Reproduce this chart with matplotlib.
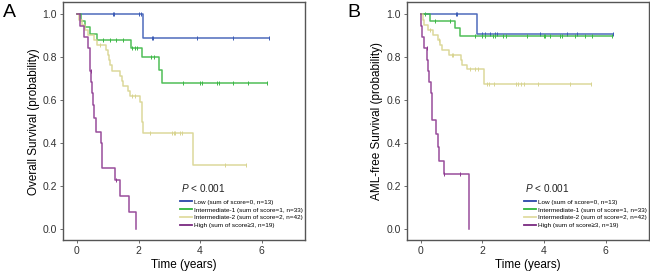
import numpy as np
import matplotlib
matplotlib.use('Agg')
import matplotlib.pyplot as plt

plt.rcParams['font.family'] = ['Liberation Sans', 'DejaVu Sans']
plt.rcParams['mathtext.fontset'] = 'custom'
plt.rcParams['mathtext.it'] = 'Liberation Sans:italic'
plt.rcParams['mathtext.rm'] = 'Liberation Sans'

groups = ['Low (sum of score=0, n=13)', 'Intermediate-1 (sum of score=1, n=33)',
          'Intermediate-2 (sum of score=2, n=42)', 'High (sum of score\u22653, n=19)']
colors = ['#3b5bb5', '#3cb846', '#d8d490', '#8e3a91']
legend_colors = ['#2a44a8', '#2fb83a', '#e0dca0', '#7a2a80']

# panel A: overall survival (step times, survival after step, censor times)
os_low_t = [0, 2.16]
os_low_s = [1.0, 0.889]
os_low_c = [1.17, 1.21, 2.02, 2.08, 2.43, 2.46, 3.9, 5.08, 6.22]

os_int1_t = [0, 0.12, 0.27, 0.43, 0.65, 1.75, 2.11, 2.65, 2.76]
os_int1_s = [1.0, 0.970, 0.939, 0.909, 0.879, 0.845, 0.800, 0.741, 0.678]
os_int1_c = [0.86, 1.06, 1.26, 1.51, 1.80, 1.88, 1.95, 2.40, 2.50, 3.44, 4.0, 4.05,
             4.54, 4.6, 5.08, 5.54, 6.16]

os_int2_t = [0, 0.08, 0.15, 0.25, 0.35, 0.55, 0.65, 0.95, 1.0, 1.03, 1.08, 1.13, 1.40,
             1.46, 1.51, 1.67, 1.73, 2.05, 2.11, 2.12, 2.14, 3.78]
os_int2_s = [1.0, 0.976, 0.952, 0.929, 0.905, 0.881, 0.857, 0.833, 0.810, 0.786, 0.762,
             0.738, 0.714, 0.690, 0.666, 0.643, 0.620, 0.590, 0.540, 0.500, 0.448, 0.299]
os_int2_c = [0.1, 0.75, 1.78, 1.89, 2.38, 3.08, 3.14, 3.19, 3.35, 3.40, 4.81, 5.49]

os_high_t = [0, 0.11, 0.22, 0.36, 0.42, 0.44, 0.47, 0.50, 0.53, 0.56, 0.63, 0.79, 0.81,
             1.25, 1.40, 1.70, 1.92]
os_high_s = [1.0, 0.947, 0.895, 0.842, 0.789, 0.737, 0.684, 0.632, 0.579, 0.515, 0.453,
             0.40, 0.284, 0.227, 0.152, 0.076, 0.0]
os_high_c = [0.45, 1.27]

# panel B: AML-free survival
af_low_t = [0, 1.82]
af_low_s = [1.0, 0.909]
af_low_c = [1.15, 1.19, 1.98, 2.09, 2.25, 2.41, 2.47, 3.87, 4.76, 5.06, 6.25]

af_int1_t = [0, 0.30, 1.11, 1.29]
af_int1_s = [1.0, 0.970, 0.935, 0.897]
af_int1_c = [0.14, 0.46, 0.95, 1.76, 1.98, 2.09, 2.36, 2.41, 2.66, 2.77, 3.44, 4.0,
             4.04, 4.2, 4.52, 4.58, 5.0, 5.33, 5.55, 6.2]

af_int2_t = [0, 0.06, 0.12, 0.25, 0.40, 0.55, 0.62, 0.68, 0.92, 1.30, 1.35, 1.49, 2.05]
af_int2_s = [1.0, 0.976, 0.952, 0.929, 0.905, 0.881, 0.857, 0.833, 0.810, 0.786, 0.765,
             0.745, 0.677]
af_int2_c = [0.3, 0.58, 1.0, 1.05, 1.6, 1.75, 1.85, 2.14, 2.23, 2.38, 3.09, 3.17, 3.25,
             3.36, 3.8, 4.85, 5.52]

af_high_t = [0, 0.02, 0.05, 0.12, 0.20, 0.25, 0.27, 0.32, 0.35, 0.38, 0.49, 0.55, 0.58,
             0.77, 1.57]
af_high_s = [1.0, 0.947, 0.895, 0.842, 0.789, 0.737, 0.684, 0.632, 0.579, 0.509, 0.444,
             0.381, 0.317, 0.254, 0.0]
af_high_c = [0.19, 0.77, 1.28]

panels = [
    ('A', 'Overall Survival (probability)',
     [(os_low_t, os_low_s, os_low_c), (os_int1_t, os_int1_s, os_int1_c),
      (os_int2_t, os_int2_s, os_int2_c), (os_high_t, os_high_s, os_high_c)]),
    ('B', 'AML-free Survival (probability)',
     [(af_low_t, af_low_s, af_low_c), (af_int1_t, af_int1_s, af_int1_c),
      (af_int2_t, af_int2_s, af_int2_c), (af_high_t, af_high_s, af_high_c)]),
]


def km_plot(ax, t, s, c, color):
    t = np.asarray(t, float)
    s = np.asarray(s, float)
    c = np.asarray(c, float)
    end = max(t.max(), c.max()) if s[-1] > 0 else t.max()
    xs = np.append(t, end)
    ys = np.append(s, s[-1])
    ax.step(xs, ys, where='post', color=color, lw=1.1, alpha=0.9)
    cs = s[np.searchsorted(t, c, side='right') - 1]
    ax.plot(c, cs, ls='none', marker='|', ms=2.5, mew=0.7, color=color)


fig = plt.figure(figsize=(6.5, 2.71), dpi=100)
lefts = [0.097, 0.626]
for (letter, ylabel, curves), left in zip(panels, lefts):
    ax = fig.add_axes([left, 0.114, 0.372, 0.878])
    for (t, s, c), col in zip(curves, colors):
        km_plot(ax, t, s, c, col)
    ax.set_xlim(-0.45, 7.4)
    ax.set_ylim(-0.053, 1.057)
    ax.set_xticks([0, 2, 4, 6])
    ax.set_yticks([0, 0.2, 0.4, 0.6, 0.8, 1.0])
    ax.set_yticklabels(['0.0', '0.2', '0.4', '0.6', '0.8', '1.0'])
    for sp in ax.spines.values():
        sp.set_color('#555555')
        sp.set_linewidth(1.0)
    ax.tick_params(length=2.5, width=0.6, color='#555555', labelsize=7.5,
                   labelcolor='#333333', pad=2)
    ax.set_xlabel('Time (years)', fontsize=8.5, labelpad=2)
    ax.set_ylabel(ylabel, fontsize=8.5, labelpad=2)
    handles = [plt.Line2D([], [], color=lc, lw=1.3) for lc in legend_colors]
    ax.legend(handles, groups, loc='upper left', bbox_to_anchor=(0.485, 0.172),
              frameon=False, handlelength=1.9, handletextpad=0.25,
              labelspacing=0.38, borderpad=0, borderaxespad=0,
              prop={'family': 'Liberation Sans', 'size': 4.6})
    ax.text(0.487, 0.218, '$P$ < 0.001', transform=ax.transAxes, fontsize=7.2,
            va='center', ha='left', color='#222222')
    fig.text(left - 0.092, 0.985, letter, fontsize=14, va='top', ha='left')

fig.savefig('out.png', dpi=100)
